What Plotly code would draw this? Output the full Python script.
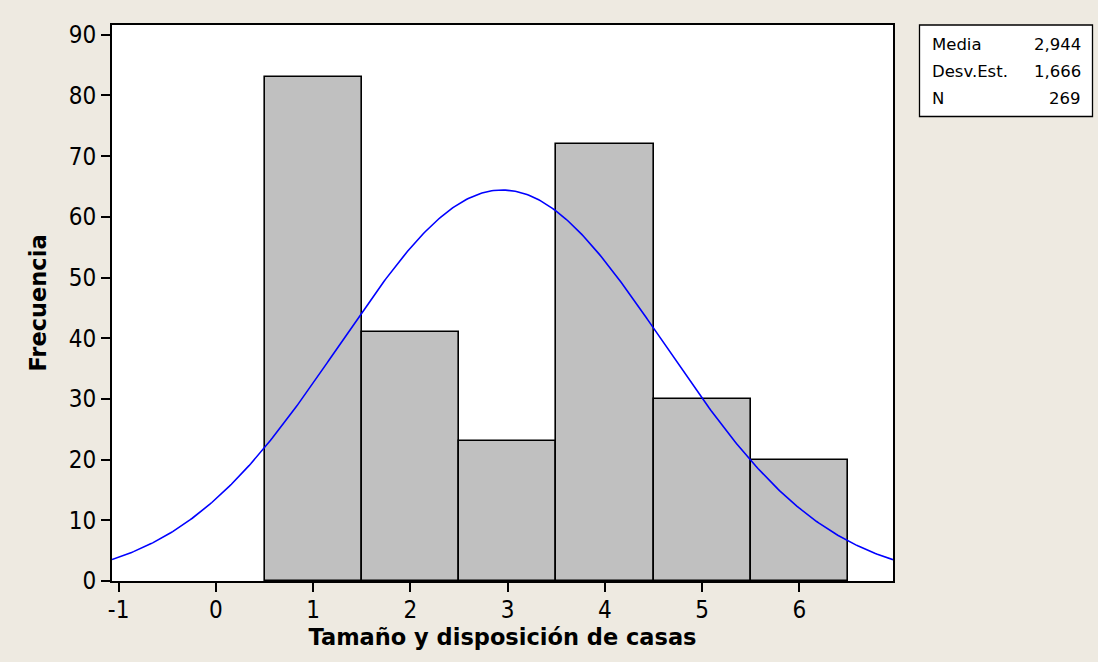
import numpy as np
import plotly.graph_objects as go

# Histogram data (bins of width 1 centred on each value)
bin_centers = [1, 2, 3, 4, 5, 6]
frequencies = [83, 41, 23, 72, 30, 20]

# Summary statistics shown in the side box
media = 2.944
desv_est = 1.666
n_total = 269
bin_width = 1.0

x_ticks = [-1, 0, 1, 2, 3, 4, 5, 6]
y_ticks = [0, 10, 20, 30, 40, 50, 60, 70, 80, 90]

x_range = [-1.068, 6.962]
y_range = [0, 91.6]

TICK_FONT = "DejaVu Sans Condensed, Liberation Sans, Arial, sans-serif"
TEXT_FONT = "DejaVu Sans, Verdana, sans-serif"
BG = "#EEEAE1"

# Fitted normal curve scaled to counts
xs = np.linspace(x_range[0], x_range[1], 400)
ys = n_total * bin_width / (desv_est * np.sqrt(2 * np.pi)) * np.exp(-0.5 * ((xs - media) / desv_est) ** 2)

fig = go.Figure()
fig.add_trace(go.Bar(
    x=bin_centers, y=frequencies, width=bin_width,
    marker=dict(color="#C0C0C0", line=dict(color="black", width=1.6)),
    hoverinfo="x+y", showlegend=False,
))
fig.add_trace(go.Scatter(
    x=xs, y=ys, mode="lines",
    line=dict(color="#0000FF", width=1.6),
    showlegend=False, hoverinfo="skip",
))

L, R, T, B = 112, 205, 25, 81
W, H = 1098, 662
pw, ph = W - L - R, H - T - B

def px(xp):
    return (xp - L) / pw

def py(yp):
    return (H - B - yp) / ph

def fmt(v, d):
    return f"{v:.{d}f}".replace(".", ",")

stats_rows = [("Media", fmt(media, 3)), ("Desv.Est.", fmt(desv_est, 3)), ("N", str(n_total))]
row_y = [44, 71, 99]
annotations = []
for (lab, val), yy in zip(stats_rows, row_y):
    annotations.append(dict(xref="paper", yref="paper", x=px(930), y=py(yy), text=lab,
                            showarrow=False, xanchor="left", yanchor="middle",
                            font=dict(family=TEXT_FONT, size=16.5, color="black")))
    annotations.append(dict(xref="paper", yref="paper", x=px(1083), y=py(yy), text=val,
                            showarrow=False, xanchor="right", yanchor="middle",
                            font=dict(family=TEXT_FONT, size=16.5, color="black")))

fig.update_layout(
    width=W, height=H,
    margin=dict(l=L, r=R, t=T, b=B),
    paper_bgcolor=BG, plot_bgcolor="white",
    bargap=0,
    font=dict(family=TICK_FONT, color="black"),
    annotations=annotations,
    shapes=[dict(type="rect", xref="paper", yref="paper",
                 x0=px(919.5), x1=px(1092.5), y0=py(116.5), y1=py(25),
                 line=dict(color="black", width=1.3), fillcolor="white", layer="above")],
    xaxis=dict(
        range=x_range, tickvals=x_ticks, ticktext=[str(v) for v in x_ticks],
        showgrid=False, zeroline=False, showline=True, linecolor="black", linewidth=2,
        mirror=True, ticks="outside", ticklen=9, tickwidth=1.5, tickcolor="black",
        ticklabelstandoff=-3,
        tickfont=dict(family=TICK_FONT, size=24, color="black"),
        title=dict(text="<b>Tamaño y disposición de casas</b>", standoff=4,
                   font=dict(family=TEXT_FONT, size=22.5, color="black")),
    ),
    yaxis=dict(
        range=y_range, tickvals=y_ticks, ticktext=[str(v) for v in y_ticks],
        showgrid=False, zeroline=False, showline=True, linecolor="black", linewidth=2,
        mirror=True, ticks="outside", ticklen=9, tickwidth=1.5, tickcolor="black",
        tickfont=dict(family=TICK_FONT, size=24, color="black"),
        title=dict(text="<b>Frecuencia</b>", standoff=16,
                   font=dict(family=TEXT_FONT, size=22.5, color="black")),
    ),
)

fig.write_html("out.html")
